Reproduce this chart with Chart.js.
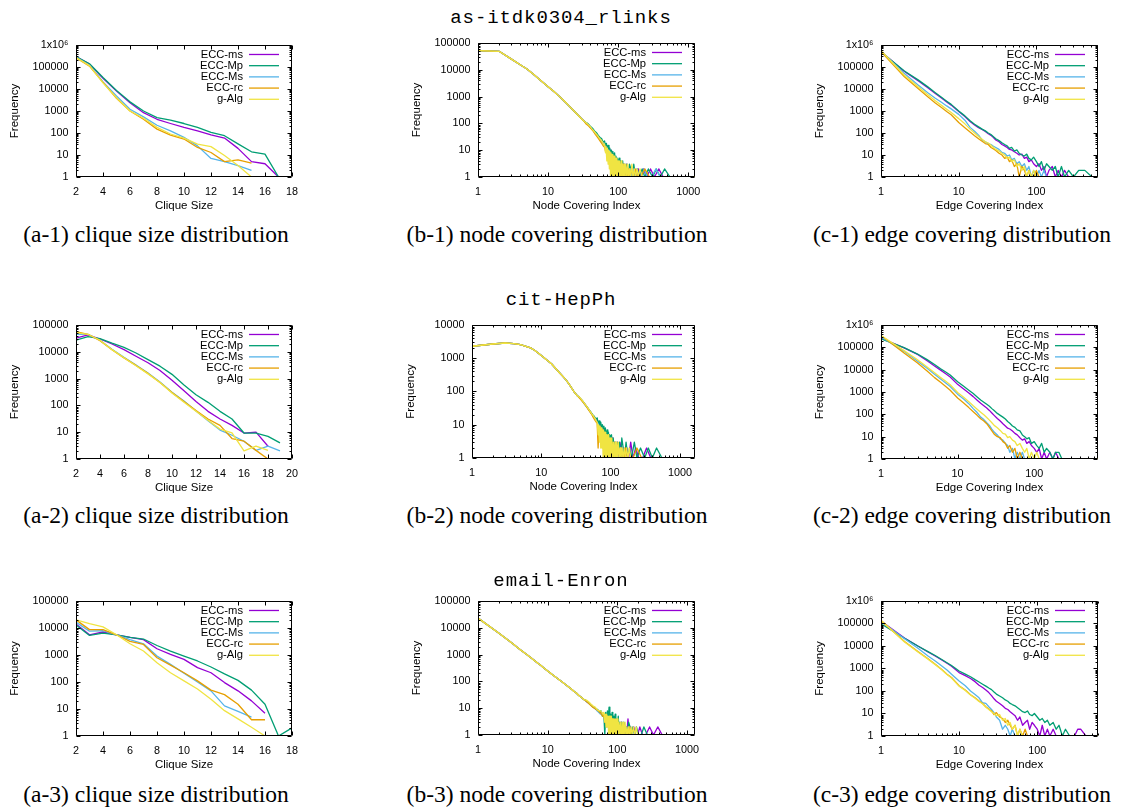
<!DOCTYPE html>
<html>
<head>
<meta charset="utf-8">
<title>clique / covering distributions</title>
<script src="https://cdn.jsdelivr.net/npm/chart.js@4/dist/chart.umd.min.js"></script>
<style>
  body { margin: 0; background: #fff; width: 1121px; height: 809px; position: relative; overflow: hidden; }
  canvas { position: absolute; }
  .ttl { position: absolute; font-family: "Liberation Mono", monospace; font-size: 19px; line-height: 1; letter-spacing: 0.9px; white-space: nowrap; transform: translateX(-50%); color: #000; }
  .cap { position: absolute; font-family: "Liberation Serif", serif; font-size: 23.5px; line-height: 1; white-space: nowrap; transform: translateX(-50%); color: #000; }
</style>
</head>
<body>
<script>
"use strict";

// ---- clique size (a-*) ----
const a1X = [2, 3, 4, 5, 6, 7, 8, 9, 10, 11, 12, 13, 14, 15, 16, 17];
const a1ms = [300000, 135000, 31000, 8000, 2350, 840, 420, 270, 178, 125, 83, 59, 20, 5, 4, 1];
const a1Mp = [300000, 140000, 33000, 8500, 2600, 1000, 500, 380, 270, 178, 106, 75, 32, 14, 11, 1];
const a1Ms = [280000, 120000, 21000, 4800, 1200, 540, 225, 125, 63, 26, 7, 5, 3.3, 2];
const a1rc = [260000, 110000, 20000, 3800, 1000, 420, 150, 80, 53, 22, 13, 5, 6, 4.3];
const a1g = [270000, 115000, 19000, 4000, 1000, 470, 180, 90, 58, 31, 24, 9.5, 3.3, 1];

const a2X = [2, 3, 4, 5, 6, 7, 8, 9, 10, 11, 12, 13, 14, 15, 16, 17, 18, 19];
const a2ms = [32000, 43000, 30000, 19500, 12000, 6800, 3900, 2000, 870, 350, 140, 60, 31, 18, 9.3, 10, 3];
const a2Mp = [27000, 37000, 31000, 21000, 14600, 9000, 5100, 2900, 1440, 580, 250, 130, 60, 31, 9.3, 9.3, 7, 4];
const a2Ms = [45000, 45000, 27000, 12500, 6200, 3200, 1600, 740, 310, 145, 62, 27, 12, 7.7, 4.6, 2.1, 3, 2];
const a2rc = [57000, 45000, 26000, 12000, 5900, 3100, 1560, 710, 300, 140, 64, 31, 18, 5.8, 4.6, 2.1, 1, 1];
const a2g = [52000, 45000, 27000, 12000, 6000, 3000, 1500, 710, 290, 130, 60, 28, 13, 9.4, 2, 3, 2.1];

const a3X = [2, 3, 4, 5, 6, 7, 8, 9, 10, 11, 12, 13, 14, 15, 16, 17, 18];
const a3ms = [14000, 5600, 7100, 5600, 4500, 3700, 1700, 1050, 690, 340, 220, 95, 47, 20, 7];
const a3Mp = [13000, 5300, 6500, 5600, 4500, 3900, 2250, 1400, 910, 600, 360, 200, 115, 50, 15, 1, 2];
const a3Ms = [16500, 7600, 7900, 5600, 3700, 2600, 910, 450, 210, 100, 47, 13, 8.2, 5];
const a3rc = [20000, 8700, 8700, 5600, 3200, 2450, 790, 420, 220, 110, 50, 34, 15, 4, 4];
const a3g = [20000, 14400, 11000, 5600, 2600, 1400, 520, 220, 110, 55, 23, 8.7, 4.3, 2.1, 1];

// ---- node covering (b-*): smooth head shared by all series, noisy tail per series ----
const b1HeadX = [1, 2, 3, 4, 5, 6, 7, 8, 9, 10, 12, 14, 16, 18, 20, 22, 25, 28, 30, 33];
const b1HeadY = [52000, 49000, 25000, 15500, 10700, 7300, 5200, 3850, 2970, 2340, 1570, 1110, 800, 585, 440, 345, 245, 180, 150, 117];
const b2HeadX = [1, 2, 3, 4, 5, 6, 7, 8, 9, 10, 12, 14, 16, 18, 20, 23, 26, 30, 33];
const b2HeadY = [2290, 2680, 2870, 2750, 2550, 2290, 2040, 1740, 1440, 1200, 880, 680, 500, 380, 300, 215, 150, 95, 75];
const b3HeadX = [1, 2, 3, 4, 5, 6, 7, 8, 9, 10, 12, 14, 16, 18, 20, 22, 24, 26, 28, 30, 33];
const b3HeadY = [23000, 6200, 2800, 1550, 1000, 700, 510, 390, 305, 245, 170, 125, 97, 77, 62, 51, 42, 36, 30, 26, 21];

// tail sample positions, one list per series (same for all three datasets)
const bTailXms = [35, 38, 41, 44, 47, 50, 53, 56, 59, 62, 65, 67, 69, 71, 73, 75, 77, 79, 81, 83, 85, 87, 88, 90, 92, 94, 96, 98, 101, 104, 107, 110, 114, 118, 122, 126, 131, 136, 142, 148, 155, 163, 172, 182, 195, 210, 230, 255, 290, 330, 380, 440, 520, 800, 1250];
const bTailXMp = [34, 37, 40, 43, 46, 49, 52, 55, 58, 61, 64, 66, 68, 70, 72, 74, 76, 78, 80, 82, 84, 86, 89, 91, 93, 95, 97, 100, 103, 106, 109, 112, 116, 120, 124, 129, 134, 139, 145, 152, 159, 167, 177, 188, 200, 220, 240, 270, 310, 350, 400, 460, 550, 900, 1250];
const bTailXMs = [36, 39, 42, 45, 48, 51, 54, 57, 60, 63, 66, 68, 70, 72, 74, 76, 78, 80, 82, 84, 86, 88, 90, 93, 96, 99, 102, 105, 108, 111, 115, 119, 123, 128, 133, 138, 144, 150, 157, 165, 174, 185, 198, 215, 235, 260, 300, 345, 400, 470, 600, 1250];
const bTailXrc = [35, 38, 41, 44, 47, 50, 53, 56, 59, 62, 64, 66, 68, 70, 72, 74, 76, 78, 80, 82, 84, 86, 88, 90, 92, 95, 98, 101, 104, 107, 111, 115, 119, 124, 129, 135, 141, 148, 156, 165, 175, 190, 210, 240, 280, 340, 420, 600, 1250];
const bTailXg = [36, 39, 42, 45, 48, 51, 54, 57, 60, 62, 64, 66, 67, 69, 70, 72, 73, 75, 76, 78, 79, 81, 82, 84, 85, 87, 88, 90, 92, 94, 96, 98, 100, 102, 104, 107, 110, 113, 116, 119, 122, 125, 129, 133, 137, 141, 146, 151, 157, 163, 170, 178, 186, 195, 205, 220, 240, 270, 320, 400, 600, 1250];

const b1ms = [105, 88, 66, 56, 42, 36, 30, 24, 21, 17, 16, 12, 14, 10, 12, 9, 10, 7, 8, 5, 7, 4, 1, 5, 2, 4, 1, 3, 2, 4, 1, 3, 2, 3, 1, 2, 3, 1, 2, 1, 2, 1, 2, 1, 2, 1, 2, 1, 2, 1, 2, 1, 1, 1, 1];
const b1Mp = [112, 98, 78, 66, 52, 45, 36, 30, 27, 20, 22, 15, 18, 12, 15, 9, 12, 8, 10, 6, 9, 5, 8, 3, 6, 2, 5, 3, 5, 1, 4, 2, 4, 1, 3, 2, 3, 1, 3, 2, 1, 3, 1, 2, 1, 2, 1, 2, 1, 2, 1, 2, 1, 1, 1];
const b1Ms = [98, 80, 62, 50, 40, 33, 27, 23, 19, 15, 14, 10, 12, 8, 10, 6, 8, 5, 6, 3, 5, 2, 4, 1, 3, 2, 3, 1, 2, 3, 1, 2, 1, 2, 1, 2, 1, 2, 1, 2, 1, 2, 1, 1, 2, 1, 1, 2, 1, 1, 1, 1];
const b1rc = [95, 80, 64, 52, 40, 32, 26, 21, 17, 14, 13, 9, 11, 6, 9, 4, 7, 3, 6, 2, 5, 1, 4, 2, 4, 1, 3, 1, 3, 1, 2, 1, 3, 1, 2, 1, 2, 1, 2, 1, 2, 1, 1, 2, 1, 1, 1, 1, 1];
const b1g = [100, 82, 64, 52, 42, 35, 28, 24, 20, 16, 17, 8, 14, 4, 12, 3, 10, 2, 9, 1, 8, 1, 7, 1, 6, 1, 6, 1, 5, 1, 5, 1, 4, 1, 4, 1, 4, 1, 3, 1, 3, 1, 3, 1, 3, 1, 2, 1, 3, 1, 2, 1, 2, 1, 2, 1, 1, 1, 1, 1, 1, 1];

const b2ms = [68, 56, 46, 38, 31, 26, 22, 18, 16, 14, 13, 10, 11, 8, 9, 7, 8, 5, 7, 4, 6, 3, 5, 2, 4, 3, 4, 1, 3, 2, 4, 1, 3, 2, 1, 3, 1, 2, 3, 1, 2, 1, 2, 1, 3, 1, 2, 1, 1, 2, 1, 1, 1, 1, 1];
const b2Mp = [72, 60, 50, 40, 34, 28, 24, 20, 18, 15, 16, 11, 13, 9, 12, 8, 10, 7, 9, 5, 8, 4, 7, 3, 6, 2, 5, 4, 5, 2, 4, 2, 3, 1, 3, 2, 3, 1, 4, 2, 1, 3, 1, 2, 1, 3, 1, 2, 1, 2, 1, 2, 1, 1, 1];
const b2Ms = [64, 52, 42, 35, 29, 24, 20, 17, 15, 12, 11, 8, 9, 6, 8, 4, 6, 3, 5, 2, 4, 1, 3, 1, 3, 1, 2, 1, 2, 1, 2, 1, 2, 1, 1, 2, 1, 1, 1, 1, 1, 1, 1, 1, 1, 1, 1, 1, 1, 1, 1, 1];
const b2rc = [66, 54, 45, 37, 30, 25, 21, 17, 14, 12, 11, 2, 9, 6, 8, 3, 7, 2, 6, 1, 5, 2, 4, 1, 4, 1, 3, 1, 3, 1, 2, 1, 3, 1, 2, 1, 2, 1, 1, 2, 1, 1, 1, 2, 1, 1, 1, 1, 1];
const b2g = [66, 54, 44, 36, 30, 25, 21, 18, 15, 13, 12, 5, 10, 3, 9, 2, 8, 2, 7, 1, 7, 1, 6, 1, 6, 1, 5, 1, 5, 1, 4, 1, 4, 1, 4, 1, 3, 1, 3, 1, 3, 1, 3, 1, 2, 1, 2, 1, 2, 1, 2, 1, 2, 1, 1, 1, 1, 1, 1, 1, 1, 1];

const b3ms = [19, 16, 14, 12, 10, 9, 8, 7, 7, 6, 5, 6, 4, 5, 3, 5, 2, 4, 3, 4, 2, 4, 1, 3, 2, 4, 1, 3, 2, 3, 1, 2, 3, 1, 2, 1, 2, 1, 4, 1, 2, 1, 2, 1, 1, 2, 1, 1, 2, 1, 2, 1, 1, 1, 1];
const b3Mp = [21, 17, 15, 12, 11, 9, 9, 7, 8, 5, 6, 1, 7, 3, 8, 4, 11, 3, 6, 2, 7, 3, 5, 2, 6, 1, 4, 2, 5, 1, 3, 2, 3, 1, 3, 1, 2, 1, 3, 2, 1, 2, 1, 2, 1, 1, 2, 1, 1, 1, 1, 1, 1, 1, 1];
const b3Ms = [18, 15, 13, 11, 10, 8, 7, 6, 6, 5, 5, 3, 5, 2, 4, 2, 4, 1, 3, 2, 3, 1, 3, 1, 2, 1, 2, 1, 2, 1, 2, 1, 1, 2, 1, 1, 2, 1, 1, 1, 1, 1, 1, 1, 1, 1, 1, 1, 1, 1, 1, 1];
const b3rc = [19, 16, 13, 11, 10, 9, 8, 7, 6, 5, 6, 3, 5, 2, 5, 3, 4, 1, 4, 2, 4, 1, 3, 1, 3, 2, 3, 1, 2, 1, 2, 1, 2, 1, 2, 1, 1, 2, 1, 1, 1, 1, 1, 1, 1, 1, 1, 1, 1];
const b3g = [20, 17, 14, 12, 11, 9, 8, 8, 7, 6, 7, 3, 6, 2, 6, 2, 5, 1, 5, 1, 5, 1, 5, 1, 4, 1, 4, 1, 4, 1, 4, 1, 4, 1, 3, 1, 3, 1, 3, 1, 3, 1, 3, 1, 2, 1, 2, 1, 2, 1, 2, 1, 2, 1, 1, 1, 1, 1, 1, 1, 1, 1];

// ---- edge covering (c-*) ----
const c1X = [1, 2, 3, 4, 5, 6, 7, 8, 10, 12, 14, 16, 18, 20, 22, 24, 26, 28, 30, 33, 36, 39, 42, 45, 48, 52, 56, 60, 65, 70, 75, 80, 86, 92, 100, 108, 116, 125, 135, 145, 160, 175, 190, 210, 230, 260, 300, 350, 420, 520, 620];
const c1ms = [500000, 62000, 24000, 11500, 6300, 3900, 2600, 1850, 950, 560, 330, 230, 175, 145, 118, 92, 78, 62, 48, 40, 30, 26, 22, 18, 17, 14, 12, 10, 11, 7, 8, 5, 6, 4, 3, 4, 2, 3, 1, 2, 3, 1, 2, 1, 2, 1, 1, 1, 1, 1, 1];
const c1Mp = [480000, 66000, 26000, 12500, 6800, 4200, 2800, 2000, 1000, 600, 360, 250, 190, 150, 125, 100, 85, 68, 55, 45, 36, 30, 26, 20, 22, 15, 17, 12, 10, 9, 11, 7, 6, 8, 5, 3, 5, 2, 4, 3, 2, 3, 1, 3, 1, 2, 1, 2, 2, 1, 1];
const c1Ms = [520000, 50000, 15000, 6800, 3800, 2500, 1700, 1250, 700, 380, 180, 120, 80, 48, 40, 33, 30, 25, 22, 18, 13, 12, 9, 10, 6, 7, 4, 5, 3, 4, 2, 3, 1, 2, 1, 2, 1, 2, 1, 1, 1, 1, 1, 1, 1, 1, 1, 1, 1, 1, 1];
const c1rc = [500000, 36000, 10500, 4400, 2300, 1450, 950, 680, 300, 175, 110, 75, 55, 42, 33, 30, 22, 19, 16, 12, 10, 7, 8, 5, 6, 3, 4, 1, 3, 2, 1, 2, 1, 1, 2, 1, 1, 1, 1, 1, 1, 1, 1, 1, 1, 1, 1, 1, 1, 1, 1];
const c1g = [560000, 42000, 12500, 5500, 2900, 1800, 1200, 850, 450, 260, 150, 100, 70, 52, 40, 35, 28, 22, 18, 15, 12, 10, 7, 8, 5, 6, 3, 4, 2, 3, 1, 2, 1, 2, 1, 1, 1, 1, 1, 1, 1, 1, 1, 1, 1, 1, 1, 1, 1, 1, 1];

const c2X = [1, 2, 3, 4, 5, 6, 7, 8, 10, 12, 14, 16, 18, 20, 22, 24, 26, 28, 30, 33, 36, 39, 42, 45, 48, 52, 56, 60, 65, 70, 75, 80, 86, 92, 100, 108, 116, 125, 135, 145, 160, 175, 190, 210, 230, 260, 300, 350, 420, 520, 680];
const c2ms = [260000, 94000, 48000, 25000, 14500, 9500, 6500, 4700, 2200, 1350, 900, 620, 430, 310, 240, 190, 150, 115, 90, 65, 50, 38, 30, 24, 22, 18, 14, 12, 9, 7, 8, 5, 6, 4, 3, 2, 3, 1, 2, 1, 2, 1, 2, 1, 1, 1, 1, 1, 1, 1, 1];
const c2Mp = [240000, 96000, 50000, 28000, 17000, 11000, 7800, 5800, 2900, 1800, 1200, 850, 600, 440, 350, 280, 230, 180, 147, 110, 90, 75, 62, 48, 40, 30, 26, 20, 18, 12, 10, 8, 9, 5, 6, 4, 3, 5, 2, 3, 2, 1, 2, 2, 1, 1, 1, 1, 1, 1, 1];
const c2Ms = [300000, 66000, 24000, 11500, 6200, 3800, 2500, 1750, 800, 480, 300, 180, 120, 75, 58, 42, 32, 22, 16, 12, 8, 7, 5, 4, 2, 3, 1, 2, 1, 2, 1, 1, 1, 1, 1, 1, 1, 1, 1, 1, 1, 1, 1, 1, 1, 1, 1, 1, 1, 1, 1];
const c2rc = [340000, 56000, 20000, 8600, 4400, 2700, 1750, 1200, 540, 320, 200, 130, 90, 63, 50, 38, 26, 18, 13, 10, 9, 6, 5, 3, 4, 2, 3, 1, 2, 1, 1, 1, 1, 1, 1, 1, 1, 1, 1, 1, 1, 1, 1, 1, 1, 1, 1, 1, 1, 1, 1];
const c2g = [340000, 71000, 28000, 13000, 7300, 4500, 3000, 2100, 950, 580, 370, 240, 170, 125, 95, 72, 55, 42, 32, 25, 19, 14, 13, 9, 10, 7, 6, 4, 5, 3, 2, 3, 1, 2, 1, 2, 1, 1, 1, 1, 1, 1, 1, 1, 1, 1, 1, 1, 1, 1, 1];

const c3X = [1, 2, 3, 4, 5, 6, 7, 8, 10, 12, 14, 16, 18, 20, 22, 24, 26, 28, 30, 33, 36, 39, 42, 45, 48, 52, 56, 60, 65, 70, 75, 80, 86, 92, 100, 108, 116, 125, 135, 145, 160, 175, 190, 210, 230, 260, 300, 330, 360, 420, 600];
const c3ms = [130000, 22500, 9700, 5400, 3500, 2400, 1700, 1250, 660, 480, 360, 260, 180, 143, 110, 85, 62, 45, 35, 28, 22, 17, 15, 12, 10, 8, 5, 7, 3, 4, 5, 2, 4, 3, 2, 1, 3, 1, 2, 1, 2, 1, 1, 1, 1, 1, 1, 2, 2, 1, 1];
const c3Mp = [97000, 22000, 9700, 5600, 3700, 2500, 1800, 1350, 770, 560, 430, 320, 250, 200, 165, 135, 115, 90, 73, 60, 50, 40, 35, 28, 25, 22, 18, 15, 12, 11, 13, 9, 8, 10, 7, 5, 6, 4, 5, 3, 4, 2, 3, 1, 2, 1, 1, 1, 1, 1, 1];
const c3Ms = [125000, 21000, 7700, 3600, 2100, 1300, 850, 560, 280, 170, 100, 70, 50, 30, 28, 20, 15, 11, 7, 5, 2, 3, 2, 1, 2, 1, 1, 1, 1, 1, 1, 1, 1, 1, 1, 1, 1, 1, 1, 1, 1, 1, 1, 1, 1, 1, 1, 1, 1, 1, 1];
const c3rc = [135000, 16000, 5500, 2700, 1500, 900, 560, 400, 170, 110, 68, 50, 36, 28, 20, 16, 13, 9, 11, 7, 6, 4, 5, 3, 2, 3, 1, 2, 1, 2, 1, 1, 1, 1, 1, 1, 1, 1, 1, 1, 1, 1, 1, 1, 1, 1, 1, 1, 1, 1, 1];
const c3g = [140000, 15000, 5300, 2600, 1450, 880, 540, 380, 165, 105, 66, 48, 34, 27, 19, 15, 12, 10, 8, 9, 5, 6, 3, 4, 2, 3, 1, 2, 1, 1, 1, 1, 1, 1, 1, 1, 1, 1, 1, 1, 1, 1, 1, 1, 1, 1, 1, 1, 1, 1, 1];

const NAMES = ["ECC-ms", "ECC-Mp", "ECC-Ms", "ECC-rc", "g-Alg"];
const COLORS = ["#9400d3", "#009e73", "#56b4e9", "#e69f00", "#f0e442"];

const TITLES = ["as-itdk0304_rlinks", "cit-HepPh", "email-Enron"];
const CAPTIONS = ["clique size distribution", "node covering distribution", "edge covering distribution"];

function zip(xs, ys) {
  return ys.map((y, i) => ({ x: xs[i], y: y }));
}
function joined(headX, headY, tailX, tailY) {
  return zip(headX, headY).concat(zip(tailX, tailY));
}

const B_TAIL_X = [bTailXms, bTailXMp, bTailXMs, bTailXrc, bTailXg];

// plot rectangles are [left, top, right, bottom] in page pixels
const PANELS = [
  { rect: [76, 43, 292, 177], xType: "linear", xMax: 18, yMax: 1e6, xTitle: "Clique Size",
    series: [a1ms, a1Mp, a1Ms, a1rc, a1g].map(s => zip(a1X, s)) },
  { rect: [478, 41, 695, 177], xType: "logarithmic", xMax: 1250, yMax: 1e5, xTitle: "Node Covering Index",
    series: [b1ms, b1Mp, b1Ms, b1rc, b1g].map((t, i) => joined(b1HeadX, b1HeadY, B_TAIL_X[i], t)) },
  { rect: [881, 43, 1098, 177], xType: "logarithmic", xMax: 620, yMax: 1e6, xTitle: "Edge Covering Index",
    series: [c1ms, c1Mp, c1Ms, c1rc, c1g].map(s => zip(c1X, s)) },

  { rect: [76, 323, 292, 459], xType: "linear", xMax: 20, yMax: 1e5, xTitle: "Clique Size",
    series: [a2ms, a2Mp, a2Ms, a2rc, a2g].map(s => zip(a2X, s)) },
  { rect: [472, 323, 695, 458], xType: "logarithmic", xMax: 1650, yMax: 1e4, xTitle: "Node Covering Index",
    series: [b2ms, b2Mp, b2Ms, b2rc, b2g].map((t, i) => joined(b2HeadX, b2HeadY, B_TAIL_X[i], t)) },
  { rect: [881, 323, 1098, 459], xType: "logarithmic", xMax: 680, yMax: 1e6, xTitle: "Edge Covering Index",
    series: [c2ms, c2Mp, c2Ms, c2rc, c2g].map(s => zip(c2X, s)) },

  { rect: [76, 599, 292, 736], xType: "linear", xMax: 18, yMax: 1e5, xTitle: "Clique Size",
    series: [a3ms, a3Mp, a3Ms, a3rc, a3g].map(s => zip(a3X, s)) },
  { rect: [478, 599, 695, 735], xType: "logarithmic", xMax: 1300, yMax: 1e5, xTitle: "Node Covering Index",
    series: [b3ms, b3Mp, b3Ms, b3rc, b3g].map((t, i) => joined(b3HeadX, b3HeadY, B_TAIL_X[i], t)) },
  { rect: [881, 599, 1098, 736], xType: "logarithmic", xMax: 600, yMax: 1e6, xTitle: "Edge Covering Index",
    series: [c3ms, c3Mp, c3Ms, c3rc, c3g].map(s => zip(c3X, s)) },
];

const Y_AXIS_W = 72;
const X_AXIS_H = 40;
const PAD_TOP = 12;
const PAD_RIGHT = 22;

Chart.defaults.font.family = '"Liberation Sans", Arial, sans-serif';
Chart.defaults.color = "#000";

function decadeTicks(scale) {
  const out = [];
  for (let v = 1; v <= scale.max * 1.0001; v *= 10) out.push({ value: v });
  scale.ticks = out;
}

function fmtTick(v) {
  return v >= 1e6 ? "1x10\u2076" : String(v);
}

// positions of the inward gnuplot-style tick marks
function tickMarks(scale) {
  const marks = [];
  if (scale.type === "logarithmic") {
    for (let d = 1; d <= scale.max; d *= 10) {
      for (let m = 1; m <= 9; m++) {
        const v = m * d;
        if (v >= scale.min && v <= scale.max) marks.push([v, m === 1 ? 4 : 2]);
      }
    }
  } else {
    scale.ticks.forEach(t => marks.push([t.value, 4]));
  }
  return marks;
}

const gnuplotFrame = {
  id: "gnuplotFrame",
  afterDraw(chart) {
    const { ctx, chartArea: a, scales } = chart;
    const L = Math.round(a.left) + 0.5, R = Math.round(a.right) - 0.5;
    const T = Math.round(a.top) + 0.5, B = Math.round(a.bottom) - 0.5;
    ctx.save();
    ctx.strokeStyle = "#000";
    ctx.lineWidth = 1;
    ctx.beginPath();
    tickMarks(scales.x).forEach(([v, len]) => {
      const px = Math.round(scales.x.getPixelForValue(v)) + 0.5;
      ctx.moveTo(px, B); ctx.lineTo(px, B - len);
      ctx.moveTo(px, T); ctx.lineTo(px, T + len);
    });
    tickMarks(scales.y).forEach(([v, len]) => {
      const py = Math.round(scales.y.getPixelForValue(v)) + 0.5;
      ctx.moveTo(L, py); ctx.lineTo(L + len, py);
      ctx.moveTo(R, py); ctx.lineTo(R - len, py);
    });
    ctx.rect(L, T, R - L, B - T);
    ctx.stroke();
    ctx.restore();
  }
};

// key in the top right corner: label right-aligned, line sample after it
const gnuplotKey = {
  id: "gnuplotKey",
  afterDatasetsDraw(chart) {
    const { ctx, chartArea: a } = chart;
    ctx.save();
    ctx.font = '11.2px "Liberation Sans", Arial, sans-serif';
    ctx.textAlign = "right";
    ctx.textBaseline = "middle";
    chart.data.datasets.forEach((ds, i) => {
      const y = a.top + 9.5 + i * 11.2;
      ctx.fillStyle = "#000";
      ctx.fillText(ds.label, a.right - 49, y);
      ctx.strokeStyle = ds.borderColor;
      ctx.lineWidth = 1.3;
      ctx.beginPath();
      ctx.moveTo(a.right - 43, y);
      ctx.lineTo(a.right - 13, y);
      ctx.stroke();
    });
    ctx.restore();
  }
};

function addText(cls, text, x, top) {
  const d = document.createElement("div");
  d.className = cls;
  d.textContent = text;
  d.style.left = x + "px";
  d.style.top = top + "px";
  document.body.appendChild(d);
}

function renderPanel(p) {
  const [L, T, R, B] = p.rect;
  const canvas = document.createElement("canvas");
  canvas.width = R - L + Y_AXIS_W + PAD_RIGHT;
  canvas.height = B - T + PAD_TOP + X_AXIS_H;
  canvas.style.left = (L - Y_AXIS_W) + "px";
  canvas.style.top = (T - PAD_TOP) + "px";
  document.body.appendChild(canvas);

  const xScale = {
    type: p.xType,
    min: p.xType === "linear" ? 2 : 1,
    max: p.xMax,
    grid: { display: false, drawTicks: false },
    border: { display: false },
    ticks: { padding: 9, font: { size: 10.8 }, autoSkip: false, maxRotation: 0, minRotation: 0 },
    title: { display: true, text: p.xTitle, font: { size: 11.5 }, padding: { top: 4, bottom: 4 } },
    afterFit: s => { s.height = X_AXIS_H; },
  };
  if (p.xType === "linear") {
    xScale.ticks.stepSize = 2;
  } else {
    xScale.afterBuildTicks = decadeTicks;
    xScale.ticks.callback = fmtTick;
  }

  new Chart(canvas.getContext("2d"), {
    type: "line",
    data: {
      datasets: p.series.map((data, i) => ({
        label: NAMES[i],
        data: data,
        borderColor: COLORS[i],
        backgroundColor: COLORS[i],
        borderWidth: 1.3,
        borderJoinStyle: "round",
        pointRadius: 0,
        tension: 0,
        order: NAMES.length - i,   // gnuplot draws the last series on top
      })),
    },
    options: {
      responsive: false,
      animation: false,
      events: [],
      layout: { padding: { top: PAD_TOP, right: PAD_RIGHT, left: 0, bottom: 0 } },
      plugins: { legend: { display: false }, tooltip: { enabled: false } },
      scales: {
        x: xScale,
        y: {
          type: "logarithmic",
          min: 1,
          max: p.yMax,
          grid: { display: false, drawTicks: false },
          border: { display: false },
          afterBuildTicks: decadeTicks,
          ticks: { padding: 7.5, font: { size: 10.8 }, autoSkip: false, callback: fmtTick },
          title: { display: true, text: "Frequency", font: { size: 11.5 }, padding: { top: 4, bottom: 4 } },
          afterFit: s => { s.width = Y_AXIS_W; },
        },
      },
    },
    plugins: [gnuplotKey, gnuplotFrame],
  });
}

PANELS.forEach(renderPanel);

// dataset titles and sub-figure captions
const TITLE_BASE = [24, 306, 587];
const CAP_BASE = [243, 524, 803];
const COL_CENTER = [156, 557, 962];
TITLES.forEach((t, r) => addText("ttl", t, 561, TITLE_BASE[r] - 14.6));
for (let r = 0; r < 3; r++) {
  ["a", "b", "c"].forEach((col, c) => {
    addText("cap", "(" + col + "-" + (r + 1) + ") " + CAPTIONS[c], COL_CENTER[c], CAP_BASE[r] - 19.7);
  });
}
</script>
</body>
</html>
